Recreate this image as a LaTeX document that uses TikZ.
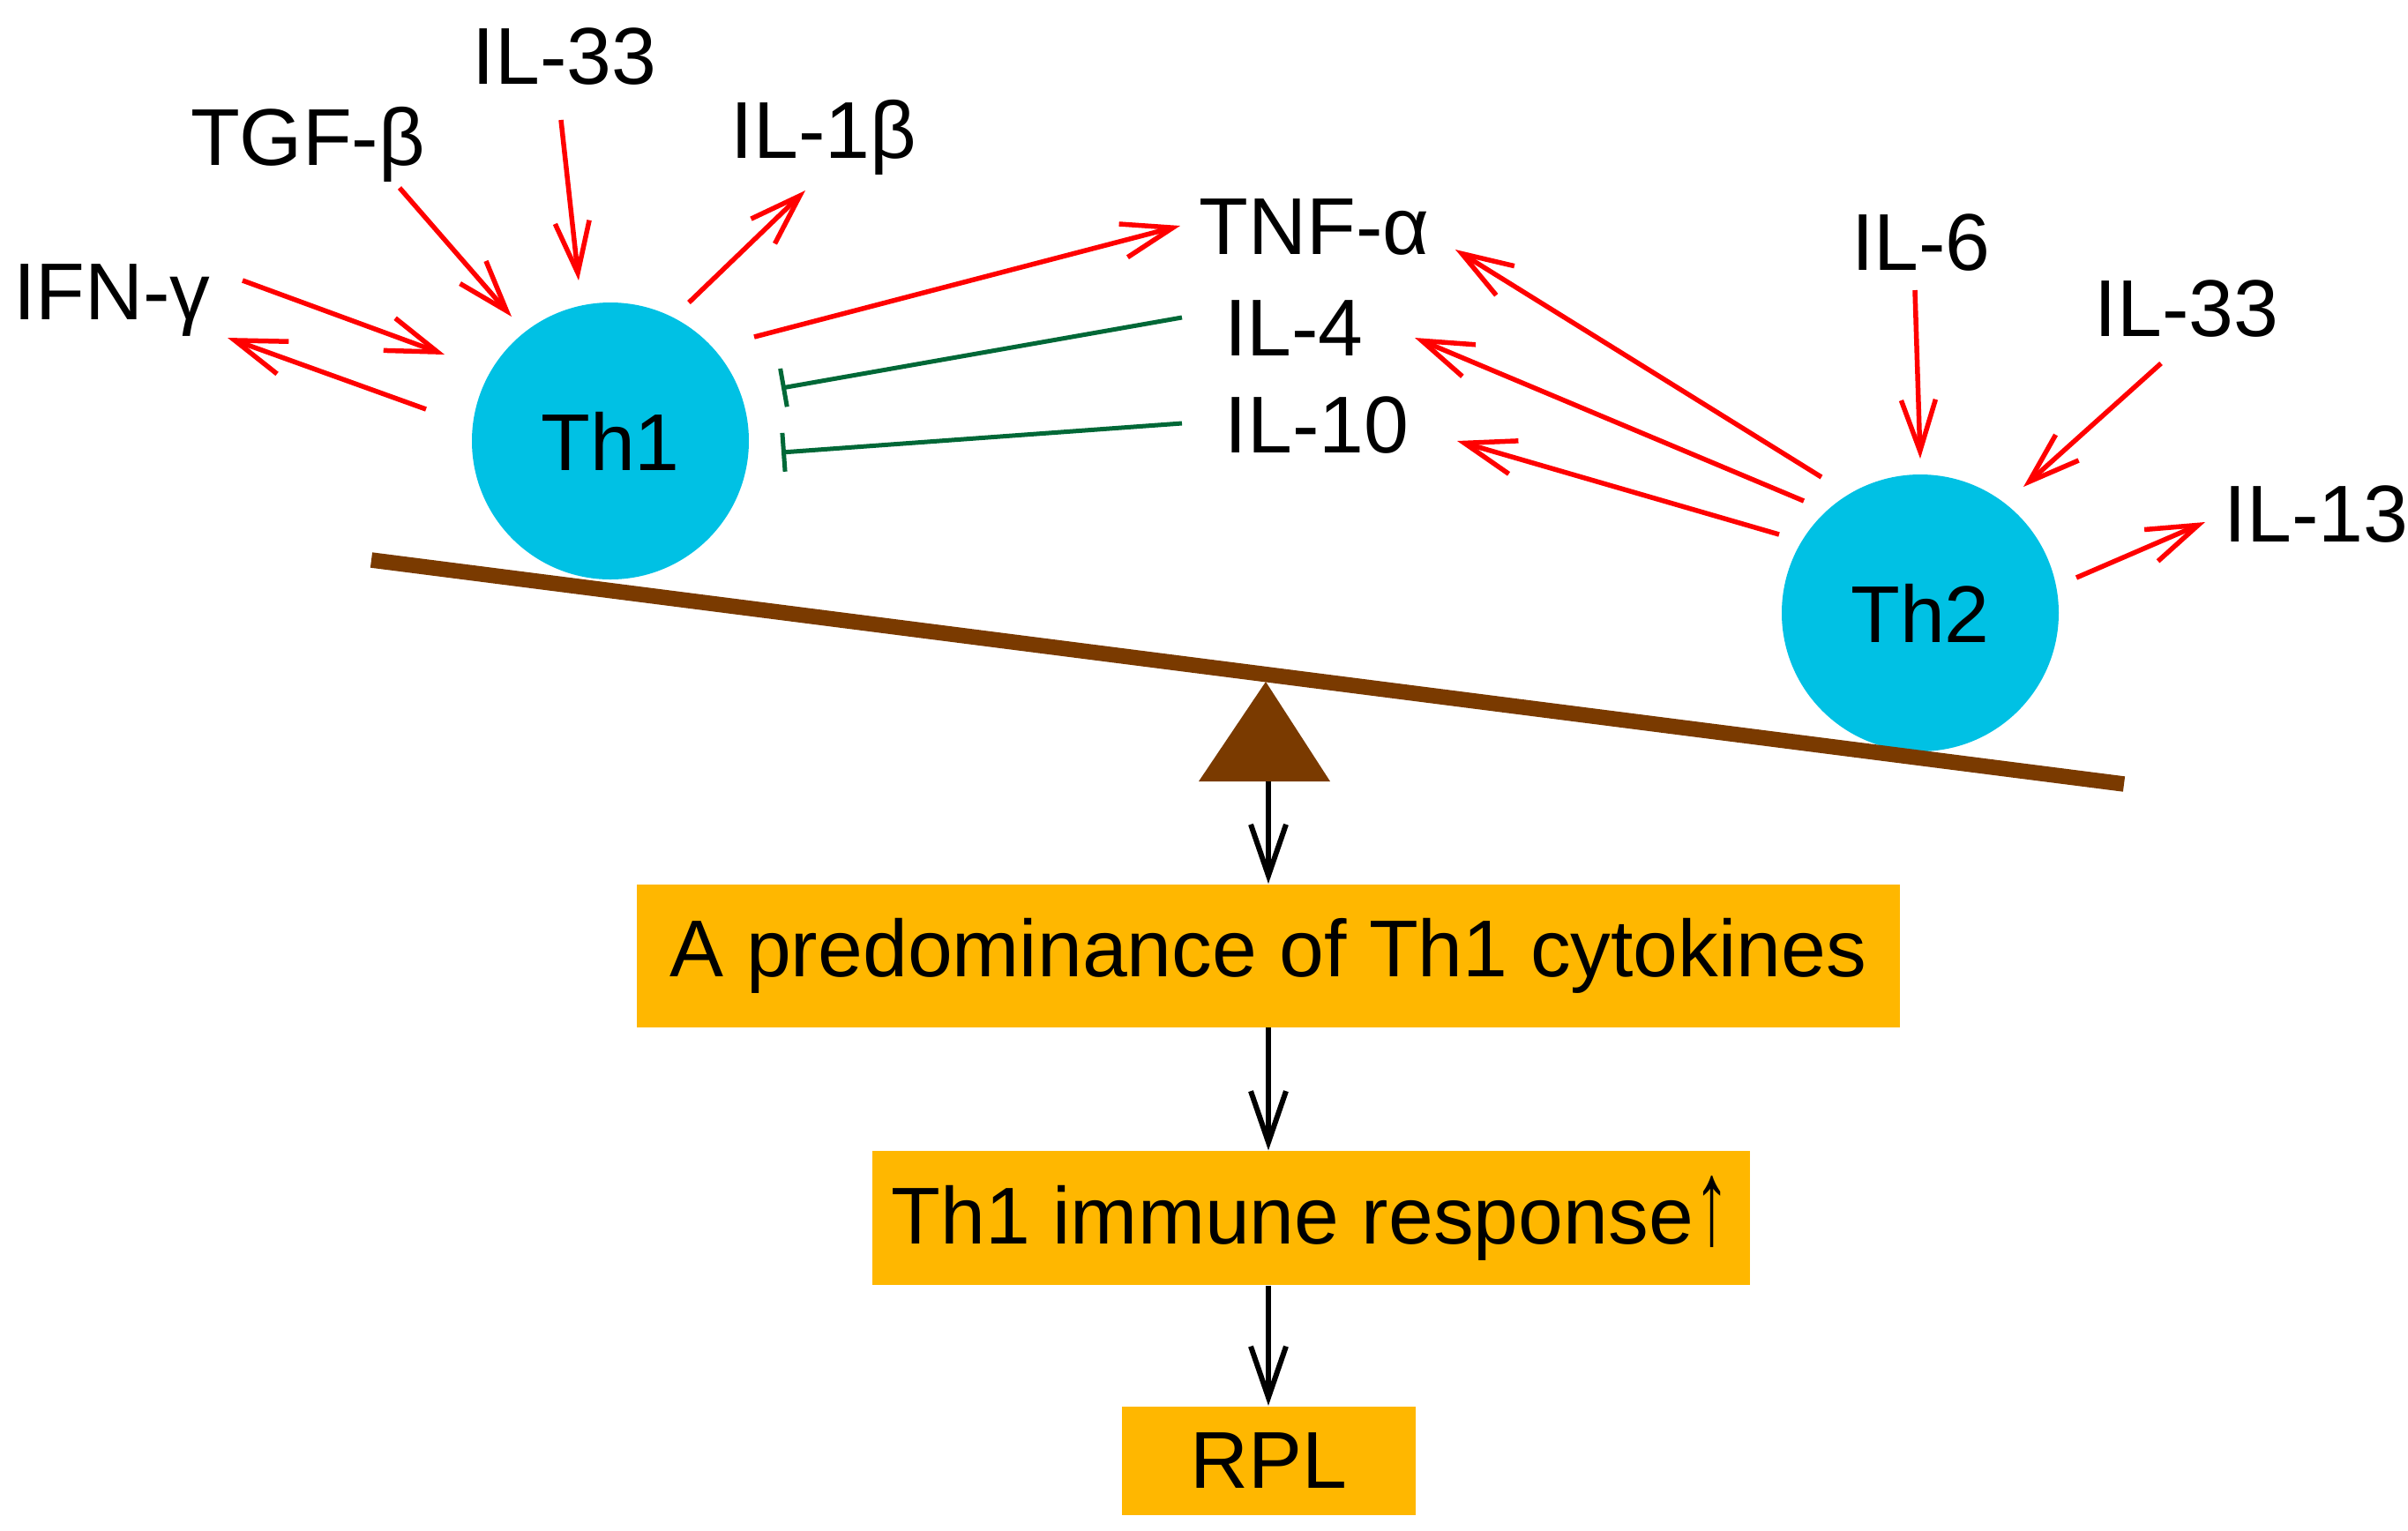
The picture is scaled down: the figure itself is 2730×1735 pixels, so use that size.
\documentclass[tikz,border=0pt]{standalone}
\usepackage{fontspec}
\usepackage{graphicx}
\setmainfont{Liberation Sans}
\usetikzlibrary{calc}
\usetikzlibrary{arrows.meta}
\usetikzlibrary{positioning}

\definecolor{cellblue}{RGB}{0,193,228}
\definecolor{boxorange}{RGB}{255,183,0}
\definecolor{beambrown}{RGB}{122,58,0}
\definecolor{inhgreen}{RGB}{0,104,55}

\begin{document}
\begin{tikzpicture}[
    x=0.1mm, y=-0.1mm,
    every node/.style={font=\fontsize{26}{31}\selectfont, inner sep=0},
    cell/.style={circle, fill=cellblue, minimum size=31.4mm},
    lbl/.style={anchor=base},
    result/.style={fill=boxorange},
    act/.style={red, line width=0.55mm, -{Straight Barb[length=5.8mm,width=3.9mm]}},
    inh/.style={inhgreen, line width=0.5mm, -{Bar[width=4.4mm]}},
    lead/.style={black, line width=0.6mm, -{Straight Barb[length=5.8mm,width=4mm]}},
 ]
    \useasboundingbox (0,0) rectangle (2730,1735);

    % the two cells
    \node[cell] (T1) at (692,500) {Th1};
    \node[cell] (T2) at (2177,695) {Th2};

    % cytokines
    \node[lbl] (IFN) at (127,362) {IFN-γ};
    \node[lbl] (TGF) at (349,187) {TGF-β};
    \node[lbl] (IL33a) at (640,95) {IL-33};
    \node[lbl] (IL1b) at (934,179) {IL-1β};
    \node[lbl] (TNF) at (1490,288) {TNF-α};
    \node[lbl] (IL4) at (1467,403) {IL-4};
    \node[lbl] (IL10) at (1493,513) {IL-10};
    \node[lbl] (IL6) at (2178,306) {IL-6};
    \node[lbl] (IL33b) at (2479,381) {IL-33};
    \node[lbl] (IL13) at (2626,614) {IL-13};

    % seesaw
    \fill[beambrown] (1359,886) -- (1435,773) -- (1508,886) -- cycle;
    \draw[beambrown, line width=1.75mm] (421,635) -- (2408,889);
    \coordinate (Piv) at (1438,886);

    \node[result, minimum width=143.2mm, minimum height=16.2mm, below=11.6mm of Piv] (B1) {A predominance of Th1 cytokines};
    \node[result, minimum width=99.5mm, minimum height=15.2mm, below=13.9mm of B1, xshift=4.8mm] (B2) {Th1 immune response\scalebox{0.9}[1.5]{↑}};
    \node[result, minimum width=33.3mm, minimum height=12.3mm, below=13.6mm of B2, xshift=-4.8mm] (B3) {RPL};

    % Th1 side
    \draw[act] ($(IFN.base)+(148,-44)$) -- ($(T1)+(-188,-98)$);
    \draw[act] ($(T1)+(-209,-36)$) -- ($(IFN.base)+(131,21)$);
    \draw[act] ($(TGF.base)+(104,26)$) -- ($(T1)+(-112,-141)$);
    \draw[act] ($(IL33a.base)+(-4,41)$) -- ($(T1)+(-36,-182)$);
    \draw[act] ($(T1)+(89,-157)$) -- ($(IL1b.base)+(-21,37)$);
    \draw[act] ($(T1)+(163,-118)$) -- ($(TNF.base)+(-152,-32)$);
    \draw[inh] ($(IL4.base)+(-127,-43)$) -- ($(T1)+(194,-60)$);
    \draw[inh] ($(IL10.base)+(-153,-33)$) -- ($(T1)+(194,13)$);

    % Th2 side
    \draw[act] ($(IL6.base)+(-7,23)$) -- ($(T2)+(0,-175)$);
    \draw[act] ($(IL33b.base)+(-29,31)$) -- ($(T2)+(117,-143)$);
    \draw[act] ($(T2)+(177,-40)$) -- ($(IL13.base)+(-126,-22)$);
    \draw[act] ($(T2)+(-112,-154)$) -- ($(TNF.base)+(160,-5)$);
    \draw[act] ($(T2)+(-132,-127)$) -- ($(IL4.base)+(137,-20)$);
    \draw[act] ($(T2)+(-160,-89)$) -- ($(IL10.base)+(159,-13)$);

    % outcome chain
    \draw[lead] (Piv) -- (B1);
    \draw[lead] (B1.south) -- (B1.south |- B2.north);
    \draw[lead] (B3.north |- B2.south) -- (B3.north);
\end{tikzpicture}
\end{document}
